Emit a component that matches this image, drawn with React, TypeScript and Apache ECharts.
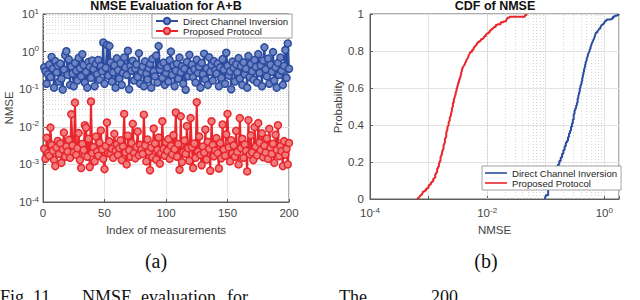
import { useEffect, useRef } from "react";
import * as echarts from "echarts";

// NMSE per measurement (index 1..200)
const directInversion: number[] = [
  0.38, 0.30, 0.14, 0.25, 0.45, 0.21, 0.72, 0.35, 0.11, 0.56, 0.28, 0.42, 0.16, 0.48, 0.19, 0.098, 0.33, 0.80, 1.02, 0.24,
  0.62, 0.13, 0.40, 0.26, 0.12, 0.50, 0.31, 0.17, 0.68, 0.36, 0.22, 0.85, 0.44, 0.15, 0.29, 0.11, 0.53, 0.39, 0.20, 0.58,
  0.34, 0.12, 0.47, 0.25, 0.60, 0.18, 0.41, 0.30, 1.75, 0.14, 0.37, 1.50, 0.23, 1.40, 0.52, 0.16, 0.28, 0.43, 0.11, 0.66,
  0.32, 0.19, 0.49, 0.13, 0.27, 0.70, 0.38, 0.24, 1.05, 0.10, 0.42, 0.31, 0.57, 0.17, 0.35, 0.46, 0.21, 0.90, 0.14, 0.29,
  0.40, 0.12, 0.55, 0.26, 0.18, 0.36, 0.47, 0.11, 0.64, 0.30, 0.22, 0.78, 0.15, 1.40, 0.33, 0.44, 0.20, 0.51, 0.13, 0.27,
  0.37, 0.16, 0.59, 1.00, 0.24, 0.43, 0.12, 0.31, 0.48, 0.19, 0.69, 0.28, 0.41, 0.14, 0.35, 0.097, 0.53, 0.22, 0.82, 0.30,
  0.45, 0.21, 0.34, 0.15, 0.61, 0.27, 0.39, 0.11, 0.50, 0.25, 0.88, 0.18, 0.36, 0.13, 0.71, 0.29, 0.44, 0.17, 0.56, 0.32,
  0.26, 0.48, 0.12, 0.38, 0.20, 0.63, 0.33, 0.14, 0.93, 0.42, 0.23, 0.30, 0.10, 0.54, 0.37, 0.16, 0.46, 0.28, 0.67, 0.19,
  0.41, 0.13, 0.52, 0.25, 0.35, 0.11, 0.76, 0.21, 0.47, 0.30, 0.18, 0.60, 0.39, 0.15, 0.86, 0.27, 0.43, 0.12, 0.58, 1.30,
  0.34, 0.22, 0.65, 0.14, 0.45, 0.29, 0.97, 0.17, 0.38, 0.11, 0.50, 0.24, 0.70, 0.31, 0.13, 0.42, 1.10, 0.20, 1.65, 0.35,
];

const proposedProtocol: number[] = [
  0.0026, 0.0014, 0.0051, 0.0020, 0.0017, 0.0095, 0.0033, 0.0023, 0.0013, 0.0009, 0.0028, 0.0042, 0.0019, 0.0036, 0.0011, 0.0025, 0.0070, 0.0016, 0.0030, 0.0022,
  0.0045, 0.0015, 0.0215, 0.0032, 0.0021, 0.044, 0.0018, 0.0027, 0.0068, 0.0013, 0.0008, 0.0035, 0.0024, 0.011, 0.0095, 0.0016, 0.0048, 0.00085, 0.047, 0.0020,
  0.0029, 0.0012, 0.0055, 0.0022, 0.0017, 0.0038, 0.0080, 0.0025, 0.0014, 0.00075, 0.0031, 0.013, 0.0020, 0.0041, 0.0019, 0.0026, 0.0015, 0.0065, 0.0023, 0.0034,
  0.0018, 0.0027, 0.0044, 0.0013, 0.0030, 0.022, 0.0021, 0.0010, 0.0058, 0.0024, 0.0016, 0.0037, 0.012, 0.0020, 0.00145, 0.0029, 0.0075, 0.00175, 0.0033, 0.0025,
  0.0019, 0.021, 0.0032, 0.0012, 0.0046, 0.0022, 0.0007, 0.0028, 0.00155, 0.0090, 0.0036, 0.00135, 0.00245, 0.0052, 0.00105, 0.0020, 0.014, 0.0026, 0.0017, 0.0039,
  0.0023, 0.0047, 0.0014, 0.0031, 0.00185, 0.0060, 0.00255, 0.024, 0.0016, 0.0035, 0.00072, 0.019, 0.00115, 0.0021, 0.0043, 0.0019, 0.0105, 0.0027, 0.00125, 0.017,
  0.0029, 0.0008, 0.0036, 0.0015, 0.045, 0.0022, 0.0055, 0.0018, 0.00095, 0.0030, 0.00205, 0.0085, 0.00135, 0.0040, 0.0026, 0.00068, 0.014, 0.0033, 0.00165, 0.00235,
  0.0050, 0.0020, 0.00078, 0.0037, 0.00145, 0.0115, 0.0025, 0.0017, 0.0063, 0.022, 0.00285, 0.0012, 0.0044, 0.00195, 0.0032, 0.0016, 0.0078, 0.00215, 0.0010, 0.017,
  0.0027, 0.0048, 0.0015, 0.0034, 0.0023, 0.00065, 0.015, 0.00185, 0.0059, 0.0021, 0.0013, 0.0098, 0.00295, 0.00175, 0.0125, 0.0038, 0.0024, 0.0067, 0.00155, 0.00315,
  0.00205, 0.0049, 0.0014, 0.0088, 0.00275, 0.0019, 0.00355, 0.0011, 0.0061, 0.00245, 0.011, 0.00165, 0.00305, 0.00225, 0.0009, 0.00415, 0.0018, 0.0026, 0.0010, 0.0037,
];

const seriesNames = ["Direct Channel Inversion", "Proposed Protocol"];
const titles = ["NMSE Evaluation for A+B", "CDF of NMSE"];
const panelCaptions = ["(a)", "(b)"];
const captionWords: [string, number][] = [
  ["Fig. 11.", 0],
  ["NMSE", 82],
  ["evaluation", 141],
  ["for", 227],
  ["The", 339],
  ["200", 431],
];

const BLUE = "#2B4C9F";
const BLUE_FILL = "#6f84c2";
const RED = "#E8262B";
const RED_FILL = "#f07c7e";
const AXIS = "#5e5e5e";
const LABEL = "#454545";
const FONT = "'Liberation Sans', Arial, Helvetica, sans-serif";
const SERIF = "'Liberation Serif', 'Times New Roman', serif";

function empiricalCdf(values: number[]): [number, number][] {
  const s = [...values].sort((a, b) => a - b);
  const n = s.length;
  const out: [number, number][] = [[s[0], 0]];
  s.forEach((v, i) => out.push([v, (i + 1) / n]));
  return out;
}

function logLabel(v: number, everyOther: boolean): string {
  const e = Math.log10(v);
  const r = Math.round(e);
  if (Math.abs(e - r) > 1e-6) return "";
  if (everyOther && r % 2 !== 0) return "";
  return `{b|10}{s|${r}}`;
}

const rich = {
  b: { fontSize: 11.5, lineHeight: 14, color: LABEL, fontFamily: FONT },
  s: { fontSize: 8, lineHeight: 8, color: LABEL, fontFamily: FONT, verticalAlign: "top" as const },
};

export default function App() {
  const ref = useRef<HTMLDivElement>(null);
  useEffect(() => {
    if (!ref.current) return;
    const chart = echarts.init(ref.current, undefined, { renderer: "svg" });

    const minorLeft: { yAxis: number }[] = [];
    for (let k = -4; k <= 0; k++) for (let m = 2; m <= 9; m++) minorLeft.push({ yAxis: m * Math.pow(10, k) });
    const minorRight: { xAxis: number }[] = [];
    for (let k = -4; k <= -1; k++) for (let m = 2; m <= 9; m++) minorRight.push({ xAxis: m * Math.pow(10, k) });

    const minorLine = {
      silent: true,
      symbol: ["none", "none"],
      label: { show: false },
      emphasis: { disabled: true },
      lineStyle: { type: [1, 2] as any, color: "#cbcbcb", width: 0.8 },
      z: 1,
      animation: false,
    };

    const axisCommon = {
      axisLine: { show: true, lineStyle: { color: AXIS, width: 1 } },
      axisTick: { show: true, inside: true, length: 3, lineStyle: { color: AXIS } },
      splitLine: { show: true, lineStyle: { color: "#e3e3e3", width: 1 } },
      nameTextStyle: { color: LABEL, fontSize: 11.5, fontFamily: FONT },
    };

    const legendCommon = {
      orient: "vertical",
      itemGap: 0,
      itemWidth: 22,
      itemHeight: 8,
      padding: [2, 4, 2, 3],
      backgroundColor: "#fff",
      borderColor: "#8c8c8c",
      borderWidth: 0.8,
      borderRadius: 0,
      selectedMode: false,
      textStyle: { fontSize: 9.6, lineHeight: 10, color: "#262626", fontFamily: FONT },
    };

    const option: any = {
      animation: false,
      textStyle: { fontFamily: FONT },
      grid: [
        { left: 43, top: 14, width: 246, height: 188, show: true, borderColor: AXIS, borderWidth: 1, backgroundColor: "transparent" },
        { left: 370, top: 14, width: 249, height: 185, show: true, borderColor: AXIS, borderWidth: 1, backgroundColor: "transparent" },
      ],
      xAxis: [
        {
          ...axisCommon,
          gridIndex: 0,
          type: "value",
          min: 0,
          max: 200,
          interval: 50,
          name: "Index of measurements",
          nameLocation: "middle",
          nameGap: 21,
          axisLabel: { color: LABEL, fontSize: 11.5, margin: 5 },
        },
        {
          ...axisCommon,
          gridIndex: 1,
          type: "log",
          logBase: 10,
          min: 1e-4,
          max: 1.78,
          interval: 1,
          name: "NMSE",
          nameLocation: "middle",
          nameGap: 24,
          axisLabel: { margin: 7, formatter: (v: number) => logLabel(v, true), rich },
        },
      ],
      yAxis: [
        {
          ...axisCommon,
          gridIndex: 0,
          type: "log",
          logBase: 10,
          min: 1e-4,
          max: 10,
          interval: 1,
          name: "NMSE",
          nameLocation: "middle",
          nameGap: 27,
          axisLabel: { margin: 4, formatter: (v: number) => logLabel(v, false), rich },
        },
        {
          ...axisCommon,
          gridIndex: 1,
          type: "value",
          min: 0,
          max: 1,
          interval: 0.2,
          name: "Probability",
          nameLocation: "middle",
          nameGap: 19,
          axisLabel: { color: LABEL, fontSize: 11.5, margin: 6 },
        },
      ],
      legend: [
        { ...legendCommon, data: seriesNames, left: 152, top: 14 },
        {
          ...legendCommon,
          data: seriesNames.map((n, i) => ({
            name: n,
            icon: "path://M0,0 L30,0 L30,2.2 L0,2.2 Z",
            itemStyle: { color: i === 0 ? BLUE : RED, borderWidth: 0 },
          })),
          left: 482,
          top: 166,
        },
      ],
      series: [
        {
          name: "minor-left",
          type: "line",
          xAxisIndex: 0,
          yAxisIndex: 0,
          data: [],
          silent: true,
          z: 1,
          markLine: { ...minorLine, data: minorLeft },
        },
        {
          name: "minor-right",
          type: "line",
          xAxisIndex: 1,
          yAxisIndex: 1,
          data: [],
          silent: true,
          z: 1,
          markLine: { ...minorLine, data: minorRight },
        },
        {
          name: seriesNames[0],
          type: "line",
          xAxisIndex: 0,
          yAxisIndex: 0,
          data: directInversion.map((v, i) => [i + 1, v]),
          symbol: "circle",
          symbolSize: 7,
          showAllSymbol: true,
          lineStyle: { color: BLUE, width: 2 },
          itemStyle: { color: BLUE_FILL, borderColor: BLUE, borderWidth: 1.5 },
          z: 3,
        },
        {
          name: seriesNames[1],
          type: "line",
          xAxisIndex: 0,
          yAxisIndex: 0,
          data: proposedProtocol.map((v, i) => [i + 1, v]),
          symbol: "circle",
          symbolSize: 7,
          showAllSymbol: true,
          lineStyle: { color: RED, width: 2 },
          itemStyle: { color: RED_FILL, borderColor: RED, borderWidth: 1.5 },
          z: 3,
        },
        {
          name: seriesNames[0],
          type: "line",
          xAxisIndex: 1,
          yAxisIndex: 1,
          data: empiricalCdf(directInversion),
          step: "end",
          showSymbol: false,
          symbol: "none",
          lineStyle: { color: BLUE, width: 2 },
          itemStyle: { color: BLUE },
          z: 3,
        },
        {
          name: seriesNames[1],
          type: "line",
          xAxisIndex: 1,
          yAxisIndex: 1,
          data: empiricalCdf(proposedProtocol),
          step: "end",
          showSymbol: false,
          symbol: "none",
          lineStyle: { color: RED, width: 2 },
          itemStyle: { color: RED },
          z: 3,
        },
      ],
      graphic: [
        {
          type: "text",
          x: 166,
          y: 6,
          style: { text: titles[0], fontSize: 12.5, fontWeight: "bold", fill: "#111", align: "center", verticalAlign: "middle", fontFamily: FONT },
        },
        {
          type: "text",
          x: 495,
          y: 6,
          style: { text: titles[1], fontSize: 12.5, fontWeight: "bold", fill: "#111", align: "center", verticalAlign: "middle", fontFamily: FONT },
        },
        {
          type: "text",
          x: 156,
          y: 261,
          style: { text: panelCaptions[0], fontSize: 20, fill: "#111", align: "center", verticalAlign: "middle", fontFamily: SERIF },
        },
        {
          type: "text",
          x: 486,
          y: 261,
          style: { text: panelCaptions[1], fontSize: 20, fill: "#111", align: "center", verticalAlign: "middle", fontFamily: SERIF },
        },
        ...captionWords.map(([w, x]) => ({
          type: "text",
          x,
          y: 288,
          style: { text: w, fontSize: 18, fill: "#111", align: "left", verticalAlign: "top", fontFamily: SERIF },
        })),
      ],
    };

    chart.setOption(option);
    return () => chart.dispose();
  }, []);

  return <div ref={ref} style={{ position: "absolute", left: 0, top: 0, width: 640, height: 300, background: "#fff" }} />;
}
